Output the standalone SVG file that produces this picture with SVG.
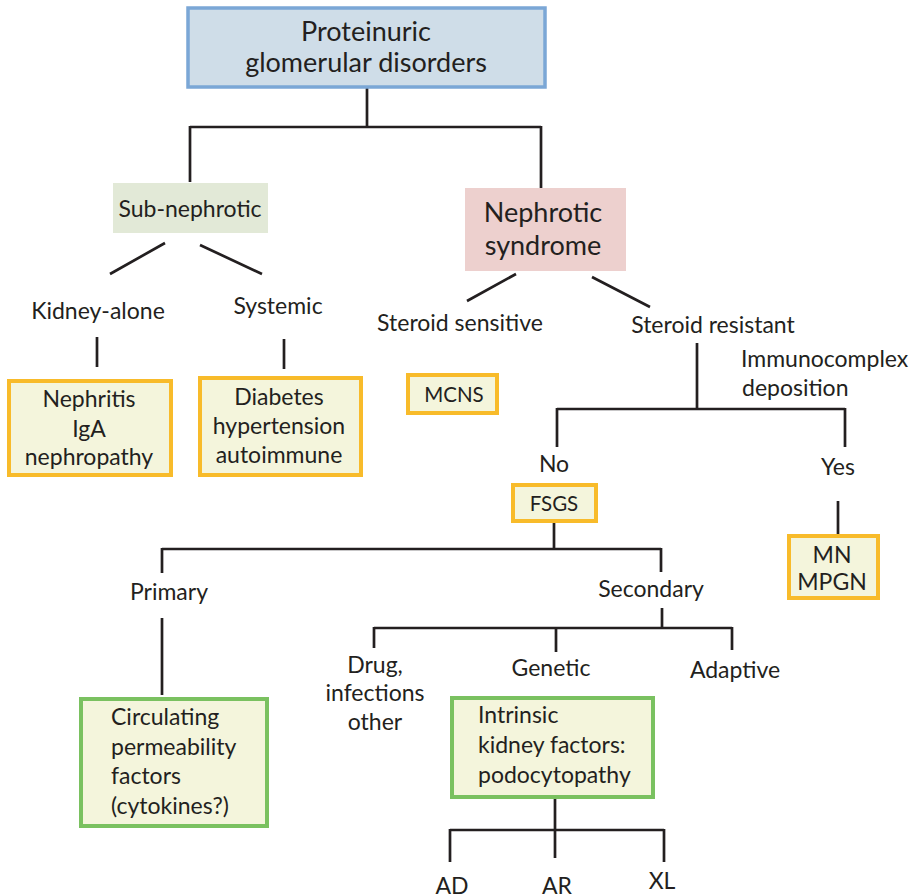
<svg xmlns="http://www.w3.org/2000/svg" width="914" height="895" viewBox="0 0 914 895">
  <style>
    text { font-family: Lato, "Open Sans", "Liberation Sans", sans-serif; fill: #231f20; font-size: 23px; }
    .c { text-anchor: middle; }
    .big { font-size: 27px; }
    .sm { font-size: 20.5px; }
    .wire { stroke: #231f20; stroke-width: 2.7; fill: none; }
    .yellow { fill: #f4f5dc; stroke: #f8bb2a; stroke-width: 4; }
    .green { fill: #f4f5dc; stroke: #7ac160; stroke-width: 4; }
  </style>
  <rect width="914" height="895" fill="#ffffff"/>

  <!-- connectors -->
  <g id="connectors" class="wire">
    <path d="M367 87 V127 M190 127 H541 M190 126 V182 M541 126 V188"/>
    <path d="M165 243 L110 274 M200 245 L262 274"/>
    <path d="M97 337 V367 M284 339 V369"/>
    <path d="M516 274 L467 301 M592 277 L650 307"/>
    <path d="M697 343 V409 M557 409 H845 M557 408 V447 M845 408 V447"/>
    <path d="M838 501 V535"/>
    <path d="M554 521 V549 M162 549 H661 M162 548 V573 M661 548 V572"/>
    <path d="M162 618 V695"/>
    <path d="M662 608 V628 M374 628 H732 M374 627 V648 M556 627 V652 M732 627 V650"/>
    <path d="M555 797 V830 M450 830 H664 M450 829 V862 M555 829 V858 M664 829 V862"/>
  </g>

  <g id="root">
    <rect x="188" y="8" width="357" height="79" fill="#cfdde8" stroke="#7ba7d6" stroke-width="3.5"/>
    <text class="c big" x="366" y="41">Proteinuric</text>
    <text class="c big" x="366" y="72">glomerular disorders</text>
  </g>

  <g id="sub-nephrotic">
    <rect x="113" y="183" width="155" height="50" fill="#e2e9d7"/>
    <text class="c" x="190" y="217">Sub-nephrotic</text>
  </g>

  <g id="nephrotic">
    <rect x="465" y="188" width="161" height="83" fill="#edd0ce"/>
    <text class="c big" x="543" y="222">Nephrotic</text>
    <text class="c big" x="543" y="255">syndrome</text>
  </g>

  <g id="kidney-alone"><text class="c" x="98" y="319">Kidney-alone</text></g>
  <g id="systemic"><text class="c" x="278" y="314">Systemic</text></g>

  <g id="nephritis">
    <rect class="yellow" x="9" y="381" width="162" height="94"/>
    <text class="c" x="89" y="407">Nephritis</text>
    <text class="c" x="89" y="437">IgA</text>
    <text class="c" x="89" y="465">nephropathy</text>
  </g>

  <g id="diabetes">
    <rect class="yellow" x="200" y="378" width="161" height="97"/>
    <text class="c" x="279" y="405">Diabetes</text>
    <text class="c" x="279" y="434">hypertension</text>
    <text class="c" x="279" y="463">autoimmune</text>
  </g>

  <g id="steroid-sensitive"><text class="c" x="460" y="331">Steroid sensitive</text></g>
  <g id="steroid-resistant"><text class="c" x="713" y="333">Steroid resistant</text></g>

  <g id="mcns">
    <rect class="yellow" x="408" y="375" width="89" height="38"/>
    <text class="c sm" x="454" y="402">MCNS</text>
  </g>

  <g id="immunocomplex">
    <text x="741" y="367">Immunocomplex</text>
    <text x="742" y="396">deposition</text>
  </g>

  <g id="no"><text class="c" x="554" y="472">No</text></g>
  <g id="yes"><text class="c" x="838" y="475">Yes</text></g>

  <g id="fsgs">
    <rect class="yellow" x="513" y="485" width="83" height="36"/>
    <text class="c sm" x="554" y="511">FSGS</text>
  </g>

  <g id="mn-mpgn">
    <rect class="yellow" x="789" y="536" width="89" height="62"/>
    <text class="c" x="832" y="563">MN</text>
    <text class="c" x="832" y="590">MPGN</text>
  </g>

  <g id="primary"><text class="c" x="169" y="600">Primary</text></g>
  <g id="secondary"><text class="c" x="651" y="597">Secondary</text></g>

  <g id="circulating">
    <rect class="green" x="81" y="699" width="186" height="127"/>
    <text x="111" y="725">Circulating</text>
    <text x="111" y="755">permeability</text>
    <text x="111" y="784">factors</text>
    <text x="111" y="814">(cytokines?)</text>
  </g>

  <g id="drug">
    <text class="c" x="375" y="673">Drug,</text>
    <text class="c" x="375" y="701">infections</text>
    <text class="c" x="375" y="730">other</text>
  </g>
  <g id="genetic"><text class="c" x="551" y="676">Genetic</text></g>
  <g id="adaptive"><text class="c" x="735" y="678">Adaptive</text></g>

  <g id="intrinsic">
    <rect class="green" x="452" y="698" width="201" height="99"/>
    <text x="478" y="723">Intrinsic</text>
    <text x="478" y="753">kidney factors:</text>
    <text x="478" y="783">podocytopathy</text>
  </g>

  <g id="ad"><text class="c" x="452" y="894">AD</text></g>
  <g id="ar"><text class="c" x="557" y="894">AR</text></g>
  <g id="xl"><text class="c" x="662" y="889">XL</text></g>
</svg>
